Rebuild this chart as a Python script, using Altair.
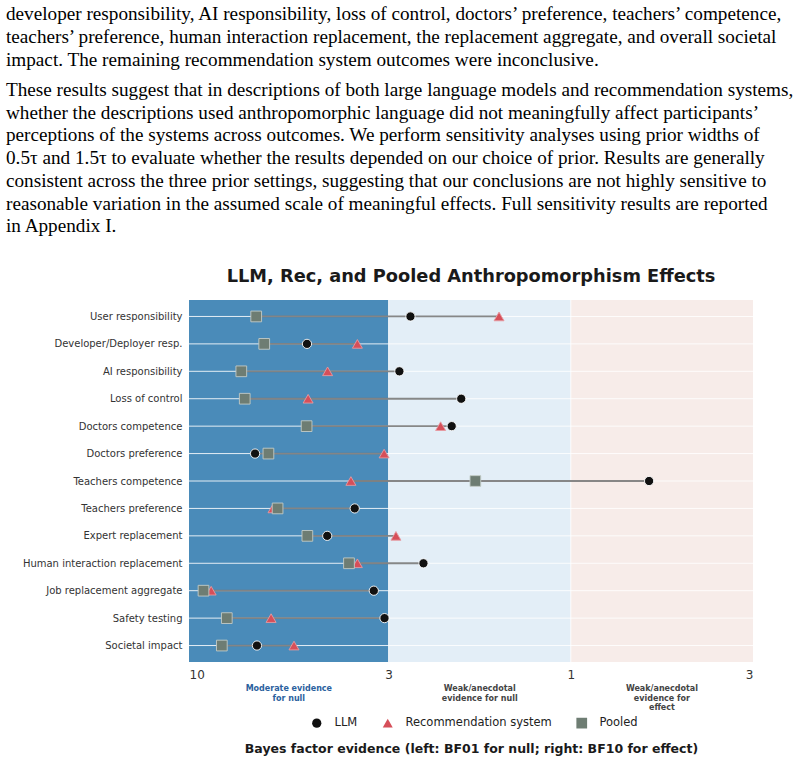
import math
import altair as alt
import pandas as pd

# ---------------- data ----------------
outcomes = [
    "User responsibility", "Developer/Deployer resp.", "AI responsibility",
    "Loss of control", "Doctors competence", "Doctors preference",
    "Teachers competence", "Teachers preference", "Expert replacement",
    "Human interaction replacement", "Job replacement aggregate",
    "Safety testing", "Societal impact",
]
# log10(BF10): negative = evidence for null (BF01 = 10**-v), positive = evidence for effect
llm_log10_bf10 = [-0.420, -0.691, -0.449, -0.287, -0.312, -0.827, 0.205,
                  -0.566, -0.638, -0.386, -0.516, -0.488, -0.822]
rec_log10_bf10 = [-0.188, -0.559, -0.637, -0.688, -0.341, -0.489, -0.576,
                  -0.780, -0.458, -0.559, -0.942, -0.785, -0.725]
pooled_log10_bf10 = [-0.824, -0.803, -0.863, -0.854, -0.692, -0.792, -0.250,
                     -0.768, -0.690, -0.581, -0.962, -0.901, -0.914]
series = ["LLM", "Recommendation system", "Pooled"]

tick_values = [-1.0, math.log10(1 / 3), 0.0, math.log10(3)]
tick_labels = ["10", "3", "1", "3"]

region_names = ["moderate_null", "weak_null", "weak_effect"]
region_labels = [["Moderate evidence", "for null"],
                 ["Weak/anecdotal", "evidence for null"],
                 ["Weak/anecdotal", "evidence for", "effect"]]

chart_title = "LLM, Rec, and Pooled Anthropomorphism Effects"
x_title = "Bayes factor evidence (left: BF01 for null; right: BF10 for effect)"

para1 = [
    "developer responsibility, AI responsibility, loss of control, doctors’ preference, teachers’ competence,",
    "teachers’ preference, human interaction replacement, the replacement aggregate, and overall societal",
    "impact. The remaining recommendation system outcomes were inconclusive.",
]
para2 = [
    "These results suggest that in descriptions of both large language models and recommendation systems,",
    "whether the descriptions used anthropomorphic language did not meaningfully affect participants’",
    "perceptions of the systems across outcomes. We perform sensitivity analyses using prior widths of",
    "0.5τ and 1.5τ to evaluate whether the results depended on our choice of prior. Results are generally",
    "consistent across the three prior settings, suggesting that our conclusions are not highly sensitive to",
    "reasonable variation in the assumed scale of meaningful effects. Full sensitivity results are reported",
    "in Appendix I.",
]

# ---------------- tables ----------------
pts = pd.DataFrame(
    [{"outcome": o, "series": series[0], "v": v} for o, v in zip(outcomes, llm_log10_bf10)]
    + [{"outcome": o, "series": series[1], "v": v} for o, v in zip(outcomes, rec_log10_bf10)]
    + [{"outcome": o, "series": series[2], "v": v} for o, v in zip(outcomes, pooled_log10_bf10)]
)
rng = pd.DataFrame({
    "outcome": outcomes,
    "lo": [min(a, b, c) for a, b, c in zip(llm_log10_bf10, rec_log10_bf10, pooled_log10_bf10)],
    "hi": [max(a, b, c) for a, b, c in zip(llm_log10_bf10, rec_log10_bf10, pooled_log10_bf10)],
})
regions = pd.DataFrame({
    "region": region_names,
    "start": tick_values[:3],
    "end": tick_values[1:],
    "label": region_labels,
})
regions["mid"] = (regions["start"] + regions["end"]) / 2
grid_x = pd.DataFrame({"x": tick_values[1:3]})
grid_y = pd.DataFrame({"outcome": outcomes})

label_expr = " : ".join(
    f"abs(datum.value - ({v:.5f})) < 0.01 ? '{l}'" for v, l in zip(tick_values, tick_labels)
) + " : ''"

xscale = alt.Scale(domain=[tick_values[0], tick_values[-1]], nice=False, zero=False)
yscale = alt.Scale(type="point", padding=0.6, domain=outcomes)

FONT = "DejaVu Sans"

xenc = alt.X(
    "start:Q", scale=xscale,
    axis=alt.Axis(
        values=tick_values, labelExpr=label_expr, grid=False, ticks=False, domain=False,
        labelFontSize=12, labelColor="#333333", labelFont=FONT, labelPadding=7,
        title=x_title,
        titleFont=FONT, titleFontSize=12.5, titleFontWeight="bold", titleColor="#1a1a1a",
        titlePadding=62,
    ),
)

bg = alt.Chart(regions).mark_rect().encode(
    x=xenc,
    x2="end:Q",
    color=alt.Color("region:N", scale=alt.Scale(domain=region_names,
                                                range=["#4a8bb9", "#e3eef7", "#f7ece9"]),
                    legend=None),
)

vgrid = alt.Chart(grid_x).mark_rule(color="white", strokeWidth=1, opacity=0.8).encode(
    x=alt.X("x:Q", scale=xscale)
)

hgrid = alt.Chart(grid_y).mark_rule(color="white", strokeWidth=1, opacity=0.85).encode(
    y=alt.Y("outcome:N", scale=yscale,
            axis=alt.Axis(title=None, ticks=False, domain=False, grid=False,
                          labelFontSize=10, labelColor="#333333", labelFont=FONT,
                          labelPadding=7, labelLimit=300)),
)

ranges = alt.Chart(rng).mark_rule(color="#7a7a7a", strokeWidth=1.8, opacity=0.9).encode(
    x=alt.X("lo:Q", scale=xscale),
    x2="hi:Q",
    y=alt.Y("outcome:N", scale=yscale),
)

leg = alt.Legend(
    title=None, orient="none", direction="horizontal", legendX=122, legendY=417,
    labelFont=FONT, labelFontSize=11.5, labelColor="#222222",
    labelOffset=12, columnPadding=24, symbolStrokeWidth=0, labelLimit=400,
)
points = alt.Chart(pts).mark_point(filled=True, strokeWidth=0.9, opacity=1).encode(
    x=alt.X("v:Q", scale=xscale),
    y=alt.Y("outcome:N", scale=yscale),
    shape=alt.Shape("series:N", scale=alt.Scale(domain=series,
                                                range=["circle", "triangle-up", "square"]),
                    legend=leg),
    fill=alt.Fill("series:N", scale=alt.Scale(domain=series,
                                              range=["#111111", "#d64f59", "#6e7d73"]),
                  legend=leg),
    size=alt.Size("series:N", scale=alt.Scale(domain=series, range=[85, 115, 90]),
                  legend=leg),
    stroke=alt.Stroke("series:N", scale=alt.Scale(domain=series,
                                                  range=["#ffffff", "#e79aa0", "#c3ccc7"]),
                      legend=None),
)

reg_text_base = alt.Chart(regions).mark_text(
    font=FONT, fontSize=8, fontWeight="bold", baseline="top", align="center", lineHeight=9.7
).encode(
    x=alt.X("mid:Q", scale=xscale),
    y=alt.value(385),
    text="label",
)
reg_text_null = reg_text_base.transform_filter(
    alt.datum.region == region_names[0]).mark_text(
    font=FONT, fontSize=8, fontWeight="bold", baseline="top", align="center",
    lineHeight=9.7, color="#2b619e")
reg_text_weak = reg_text_base.transform_filter(
    alt.datum.region != region_names[0]).mark_text(
    font=FONT, fontSize=8, fontWeight="bold", baseline="top", align="center",
    lineHeight=9.7, color="#444444")

title_text = alt.Chart(pd.DataFrame({"t": [chart_title]})).mark_text(
    font=FONT, fontSize=17.8, fontWeight="bold", color="#1a1a1a",
    align="center", baseline="middle"
).encode(x=alt.value(282), y=alt.value(-23), text="t")

p1 = alt.Chart(pd.DataFrame({"t": [para1]})).mark_text(
    font="Liberation Serif", fontSize=19.2, align="left", baseline="middle",
    lineHeight=23, color="#000000"
).encode(x=alt.value(-183), y=alt.value(-286), text="t")

p2 = alt.Chart(pd.DataFrame({"t": [para2]})).mark_text(
    font="Liberation Serif", fontSize=19.2, align="left", baseline="middle",
    lineHeight=22.7, color="#000000"
).encode(x=alt.value(-183), y=alt.value(-210), text="t")

chart = alt.layer(bg, vgrid, hgrid, ranges, points, reg_text_null, reg_text_weak,
                  title_text, p1, p2).properties(
    width=564, height=362,
    autosize=alt.AutoSizeParams(type="none"),
    padding={"left": 189, "top": 300, "right": 54, "bottom": 101},
    background="white",
).configure_view(strokeWidth=0)

chart.save("out.html", embed_options={"renderer": "svg", "actions": False})
